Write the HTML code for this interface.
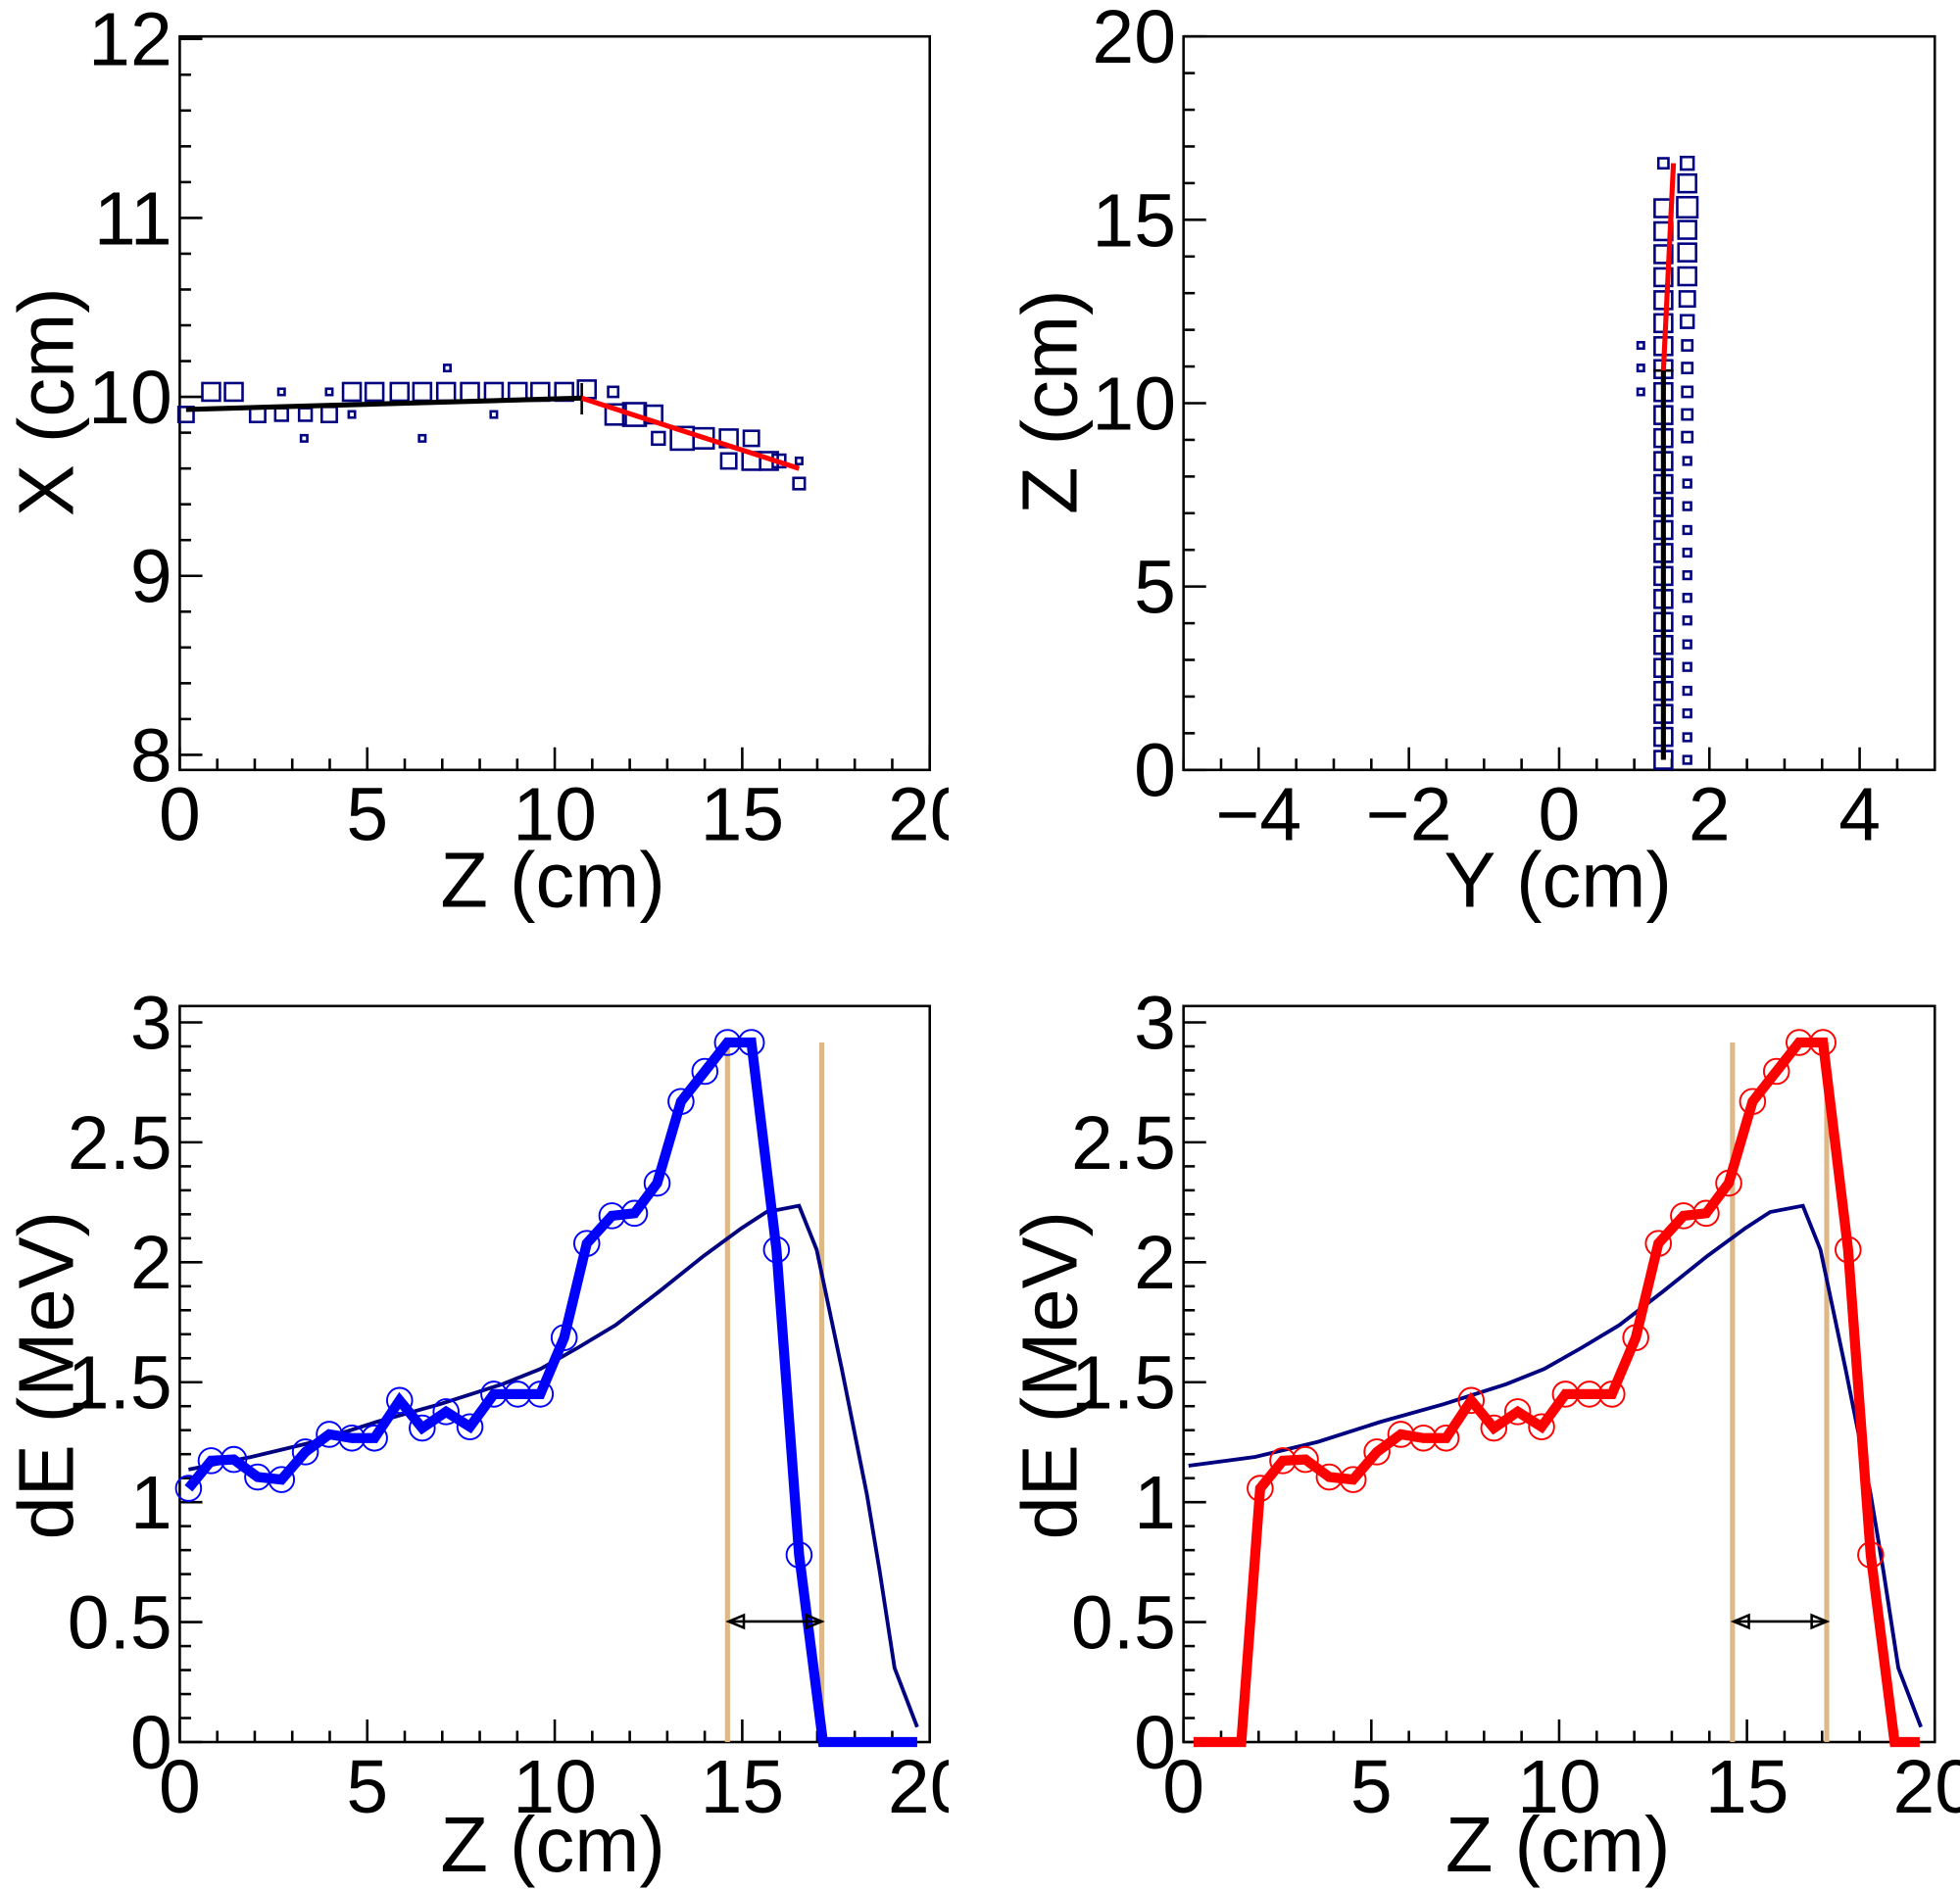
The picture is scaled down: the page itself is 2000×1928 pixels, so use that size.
<!DOCTYPE html>
<html><head><meta charset="utf-8"><style>html,body{margin:0;padding:0;background:#fff}svg{display:block}</style></head>
<body>
<svg id="s" xmlns="http://www.w3.org/2000/svg" width="2000" height="1928" viewBox="0 0 1560 1504" font-family="Liberation Sans, sans-serif">
<defs><clipPath id="cl"><rect x="0" y="0" width="755" height="1504"/></clipPath></defs>
<g id="L" clip-path="url(#cl)"></g>
<g id="R"></g>
</svg>
<script>
const NS="http://www.w3.org/2000/svg";
function el(p,t,a,txt){const e=document.createElementNS(NS,t);for(const k in a)e.setAttribute(k,a[k]);if(txt!==undefined)e.textContent=txt;p.appendChild(e);return e;}
const L=document.getElementById('L'),R=document.getElementById('R');
const FS=60,TS=62;
function frame(g,x0,x1,y0,y1){el(g,'rect',{x:x0,y:y0,width:x1-x0,height:y1-y0,fill:'none',stroke:'#000','stroke-width':2});}
function xticks(g,x0,x1,yb,vmin,vmax,minor,major,labs){
  const f=v=>x0+(v-vmin)/(vmax-vmin)*(x1-x0);
  for(let v=vmin;v<=vmax+1e-9;v+=minor){const isM=Math.abs(v/major-Math.round(v/major))<1e-6;
    el(g,'line',{x1:f(v),x2:f(v),y1:yb,y2:yb-(isM?18:9),stroke:'#000','stroke-width':2});}
  labs.forEach(v=>{el(g,'text',{x:f(v),y:yb+56,'font-size':FS,'text-anchor':'middle'},(v<0?'\u2212'+(-v):''+v));});
}
function yticks(g,xl,y0,y1,vmin,vmax,minor,major,labs,fmt){
  const f=v=>y0-(v-vmin)/(vmax-vmin)*(y0-y1);
  for(let v=vmin;v<=vmax+1e-9;v+=minor){const isM=Math.abs(v/major-Math.round(v/major))<1e-6;
    el(g,'line',{x1:xl,x2:xl+(isM?18:9),y1:f(v),y2:f(v),stroke:'#000','stroke-width':2});}
  labs.forEach(v=>{el(g,'text',{x:xl-6,y:f(v)+21,'font-size':FS,'text-anchor':'end'},fmt?fmt(v):''+v);});
}
function ylab(g,x,y,t){el(g,'text',{x:0,y:0,'font-size':TS,'text-anchor':'middle',transform:`translate(${x},${y}) rotate(-90)`},t);}
function xlab(g,x,y,t){el(g,'text',{x:x,y:y,'font-size':TS,'text-anchor':'middle'},t);}
function box(g,cx,cy,s){el(g,'rect',{x:cx-s/2,y:cy-s/2,width:s,height:s,fill:'none',stroke:'#000080','stroke-width':2});}
function poly(g,pts,col,w){el(g,'polyline',{points:pts.map(p=>p.join(',')).join(' '),fill:'none',stroke:col,'stroke-width':w,'stroke-linejoin':'miter'});}

// ---- TL ----
frame(L,143,740,29,613);
xticks(L,143,740,613,0,20,1,5,[0,5,10,15,20]);
(function(){const f=v=>601-(v-8)*142.5;
 for(let v=8;v<=12.001;v+=0.2){const M=Math.abs(v-Math.round(v))<1e-6;el(L,'line',{x1:143,x2:143+(M?18:9),y1:f(v),y2:f(v),stroke:'#000','stroke-width':2});}
 [8,9,10,11,12].forEach(v=>el(L,'text',{x:137,y:f(v)+21,'font-size':FS,'text-anchor':'end'},''+v));})();
ylab(L,58,320,'X (cm)');xlab(L,440,722,'Z (cm)');
[[168,312,14],[186,312,14],[148,330,12],[205,330,12],[224,330,10],[243,330,10],[262,330,12],[224,312,5],[262,312,5],[242,349,5],[280,330,5],[336,349,5],[356,293,5],[393,330,5],
 [280,312,14],[298,312,14],[318,312,14],[336,312,14],[355,312,14],[374,312,14],[393,312,14],[412,312,14],[430,312,14],[449,312,14],[467,310,14],[488,312,8],
 [490,330,16],[505,330,18],[520,330,14],[524,349,10],[543,349,18],[560,349,16],[580,349,14],[598,349,12],[580,367,12],[598,367,14],[612,367,14],[620,367,10],[636,385,9],[636,367,5]]
 .forEach(b=>box(L,b[0],b[1],b[2]));
poly(L,[[148,326],[463,317]],'#000',4);
el(L,'line',{x1:463,x2:463,y1:305,y2:330,stroke:'#000','stroke-width':2});
poly(L,[[463,317],[636,373]],'#f00',4);

// ---- BL ----
frame(L,143,740,801,1387);
xticks(L,143,740,1387,0,20,1,5,[0,5,10,15,20]);
yticks(L,143,1387,814,0,3,0.1,0.5,[0,0.5,1,1.5,2,2.5,3]);
ylab(L,58,1095,'dE (MeV)');xlab(L,440,1490,'Z (cm)');
const thin=[[150,1170],[200,1160],[250,1148],[300,1132],[350,1118],[400,1102],[430,1090],[460,1073],[490,1055],[525,1028],[560,1000],[590,978],[610,965],[636,960],[650,995],[670,1090],[690,1190],[700,1250],[712,1328],[730,1375]];
const blue=[[150,1185],[168,1163],[186,1162],[205,1176],[224,1178],[243,1156],[262,1142],[280,1145],[298,1145],[318,1115],[336,1137],[355,1124],[374,1136],[393,1110],[412,1110],[430,1110],[449,1065],[467,990],[487,968],[505,966],[523,942],[542,877],[561,853],[579,830],[598,830],[618,995],[636,1238],[655,1387]];
el(L,'line',{x1:579,x2:579,y1:830,y2:1387,stroke:'#deb887','stroke-width':4});
el(L,'line',{x1:654,x2:654,y1:830,y2:1387,stroke:'#deb887','stroke-width':4});
poly(L,thin,'#000080',3);
poly(L,blue.concat([[730,1387]]),'#0000ff',8);
blue.slice(0,-1).forEach(p=>el(L,'circle',{cx:p[0],cy:p[1],r:10,fill:'none',stroke:'#0000ff','stroke-width':1.5}));
function arrow(g,a,b,y){el(g,'line',{x1:a,x2:b,y1:y,y2:y,stroke:'#000','stroke-width':2});
 el(g,'polygon',{points:`${a},${y} ${a+12},${y-5} ${a+12},${y+5}`,fill:'none',stroke:'#000','stroke-width':2});
 el(g,'polygon',{points:`${b},${y} ${b-12},${y-5} ${b-12},${y+5}`,fill:'none',stroke:'#000','stroke-width':2});}
arrow(L,580,654,1291);

// ---- TR ----
frame(R,942,1540,29,613);
(function(){const f=v=>942+(v+5)*59.8;
 for(let v=-5;v<=5.001;v+=0.5){const M=Math.abs(v/2-Math.round(v/2))<1e-6;el(R,'line',{x1:f(v),x2:f(v),y1:613,y2:613-(M?18:9),stroke:'#000','stroke-width':2});}
 [-4,-2,0,2,4].forEach(v=>el(R,'text',{x:f(v),y:669,'font-size':FS,'text-anchor':'middle'},v<0?'\u2212'+(-v):''+v));})();
yticks(R,942,613,29,0,20,1,5,[0,5,10,15,20]);
ylab(R,857,320,'Z (cm)');xlab(R,1240,722,'Y (cm)');
for(let y=605;y>=150;y-=18.3){box(R,1324,y,14);}
box(R,1324,130,8);
const rc=[[130,10],[146,14],[165,16],[183,14],[201,14],[220,14],[238,12],[256,10],[275,8],[293,8],[312,8],[330,8],[348,8],[367,6],[385,6],[403,6],[422,6],[440,6],[458,6],[476,6],[494,6],[513,6],[531,6],[550,6],[568,6],[587,6],[605,6]];
rc.forEach(p=>box(R,1343,p[0],p[1]));
[275,293,312].forEach(y=>box(R,1306,y,5));
poly(R,[[1324,605],[1324,295]],'#000',4);
el(R,'line',{x1:1316,x2:1332,y1:295,y2:295,stroke:'#000','stroke-width':2});
poly(R,[[1324,295],[1332,130]],'#f00',4);

// ---- BR ----
frame(R,942,1540,801,1387);
xticks(R,942,1540,1387,0,20,1,5,[0,5,10,15,20]);
yticks(R,942,1387,814,0,3,0.1,0.5,[0,0.5,1,1.5,2,2.5,3]);
ylab(R,857,1095,'dE (MeV)');xlab(R,1240,1490,'Z (cm)');
el(R,'line',{x1:1379,x2:1379,y1:830,y2:1387,stroke:'#deb887','stroke-width':4});
el(R,'line',{x1:1454,x2:1454,y1:830,y2:1387,stroke:'#deb887','stroke-width':4});
const thin2=[[946,1167]].concat(thin.slice(1).map(p=>[p[0]+799,p[1]]));
poly(R,thin2,'#000080',3);
const red=blue.map(p=>[p[0]+853,p[1]]);
poly(R,[[950,1387],[988,1387]].concat(red).concat([[1528,1387]]),'#ff0000',8);
red.slice(0,-1).forEach(p=>el(R,'circle',{cx:p[0],cy:p[1],r:10,fill:'none',stroke:'#ff0000','stroke-width':1.5}));
arrow(R,1380,1454,1291);
</script>
</body></html>
